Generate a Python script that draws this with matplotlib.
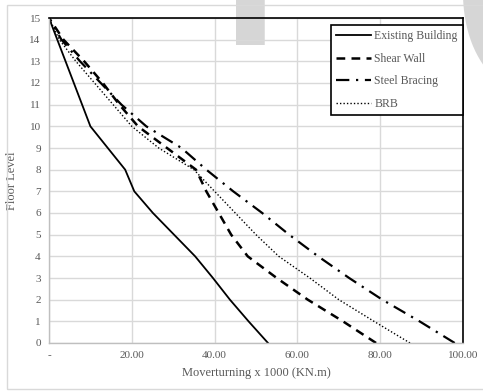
import numpy as np
import matplotlib.pyplot as plt
from matplotlib.patches import Rectangle

# floor levels and overturning moment (x 1000 kN.m) for each scheme
floors = np.arange(0, 16)
existing = [52.9, 48.2, 43.7, 39.6, 35.3, 30.2, 25.1, 20.6, 18.4, 14.2, 10.0, 8.0, 6.0, 4.0, 2.0, 0.0]
shear_wall = [79.0, 71.0, 62.5, 55.0, 48.0, 44.0, 41.0, 38.0, 35.5, 28.5, 21.5, 17.0, 13.0, 8.5, 3.5, 0.0]
steel_bracing = [98.0, 89.5, 80.5, 72.5, 65.0, 58.0, 51.5, 44.5, 38.0, 32.0, 23.5, 17.5, 12.5, 7.5, 3.0, 0.0]
brb = [87.2, 78.5, 70.0, 63.0, 55.5, 50.0, 45.0, 40.0, 35.0, 26.5, 20.0, 15.5, 11.0, 6.5, 2.5, 0.0]

xticks = [0, 20, 40, 60, 80, 100]
xticklabels = ['-', '20.00', '40.00', '60.00', '80.00', '100.00']

plt.rcParams['font.family'] = ['Liberation Serif', 'DejaVu Serif']
grey = '#595959'

fig = plt.figure(figsize=(4.83, 3.92), dpi=100)
ax = fig.add_axes([49/483, 1-343/392, 414/483, 325/392])
ax.patch.set_visible(False)

ax.plot(existing, floors, color='black', lw=1.3, ls='-', label='Existing Building')
ax.plot(shear_wall, floors, color='black', lw=1.8, ls=(0, (3.5, 2.5)), label='Shear Wall')
ax.plot(steel_bracing, floors, color='black', lw=1.6, ls=(0, (6, 3, 1, 3)), label='Steel Bracing')
ax.plot(brb, floors, color='black', lw=1.0, ls=(0, (1, 1.5)), label='BRB')

ax.set_xlim(0, 100)
ax.set_ylim(0, 15)
ax.set_xticks(xticks)
ax.set_xticklabels(xticklabels)
ax.set_yticks(floors)
ax.tick_params(length=0, labelsize=8, colors=grey, pad=6)
ax.grid(True, color='#d9d9d9', lw=1)
ax.set_axisbelow(True)

for side in ['left', 'bottom']:
    ax.spines[side].set_color('#bfbfbf')
    ax.spines[side].set_linewidth(1)
for side in ['top', 'right']:
    ax.spines[side].set_color('black')
    ax.spines[side].set_linewidth(1.2)

ax.set_xlabel('Moverturning x 1000 (KN.m)', fontsize=9, color=grey, labelpad=5)
ax.set_ylabel('Floor Level', fontsize=9, color=grey, labelpad=8)

leg = ax.legend(loc='upper right', bbox_to_anchor=(1.0, 0.979), fontsize=8.5,
                frameon=True, fancybox=False, edgecolor='black', framealpha=1,
                handlelength=3.0, handletextpad=0.25, labelspacing=0.9,
                borderpad=0.45, borderaxespad=0.0)
leg.get_frame().set_linewidth(1.2)
for t in leg.get_texts():
    t.set_color(grey)

# outer chart border
fig.patches.append(Rectangle((7/483, 1-389/392), 480/483, 384/392, transform=fig.transFigure,
                             fill=False, edgecolor='#d9d9d9', lw=1))

# faint watermark along the top, behind the plot
fig.text(222/483, 1-45/392, 'I', fontsize=110, fontweight='bold', family='DejaVu Sans',
         color='#d6d6d6', ha='left', va='baseline', zorder=-1)
fig.text(446/483, 1-106/392, 'O', fontsize=230, fontweight='bold', family='DejaVu Sans',
         color='#d6d6d6', ha='left', va='baseline', zorder=-1)

fig.savefig('out.png', dpi=100)
